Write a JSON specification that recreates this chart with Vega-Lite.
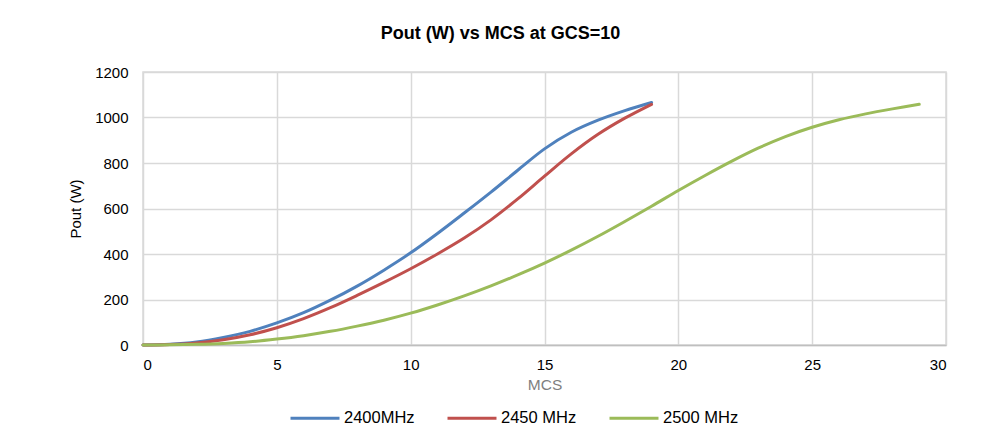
{
  "$schema": "https://vega.github.io/schema/vega-lite/v6.json",
  "width": 803,
  "height": 273,
  "autosize": "none",
  "padding": {"left": 143, "top": 72, "right": 46, "bottom": 99},
  "background": "white",
  "title": {
    "text": "Pout (W) vs MCS at GCS=10",
    "font": "Liberation Sans",
    "fontSize": 18,
    "fontWeight": "bold",
    "color": "#000000",
    "offset": 22,
    "dx": -44
  },
  "data": {
    "values": [
      {"MCS": 0, "Pout": 0, "Band": "2400MHz"},
      {"MCS": 1, "Pout": 3, "Band": "2400MHz"},
      {"MCS": 2, "Pout": 13, "Band": "2400MHz"},
      {"MCS": 3, "Pout": 33, "Band": "2400MHz"},
      {"MCS": 4, "Pout": 60, "Band": "2400MHz"},
      {"MCS": 5, "Pout": 97, "Band": "2400MHz"},
      {"MCS": 6, "Pout": 142, "Band": "2400MHz"},
      {"MCS": 7, "Pout": 197, "Band": "2400MHz"},
      {"MCS": 8, "Pout": 259, "Band": "2400MHz"},
      {"MCS": 9, "Pout": 329, "Band": "2400MHz"},
      {"MCS": 10, "Pout": 405, "Band": "2400MHz"},
      {"MCS": 11, "Pout": 490, "Band": "2400MHz"},
      {"MCS": 12, "Pout": 580, "Band": "2400MHz"},
      {"MCS": 13, "Pout": 672, "Band": "2400MHz"},
      {"MCS": 14, "Pout": 768, "Band": "2400MHz"},
      {"MCS": 15, "Pout": 862, "Band": "2400MHz"},
      {"MCS": 16, "Pout": 935, "Band": "2400MHz"},
      {"MCS": 17, "Pout": 988, "Band": "2400MHz"},
      {"MCS": 18, "Pout": 1030, "Band": "2400MHz"},
      {"MCS": 19, "Pout": 1066, "Band": "2400MHz"},
      {"MCS": 0, "Pout": 0, "Band": "2450 MHz"},
      {"MCS": 1, "Pout": 2, "Band": "2450 MHz"},
      {"MCS": 2, "Pout": 9, "Band": "2450 MHz"},
      {"MCS": 3, "Pout": 23, "Band": "2450 MHz"},
      {"MCS": 4, "Pout": 45, "Band": "2450 MHz"},
      {"MCS": 5, "Pout": 76, "Band": "2450 MHz"},
      {"MCS": 6, "Pout": 116, "Band": "2450 MHz"},
      {"MCS": 7, "Pout": 164, "Band": "2450 MHz"},
      {"MCS": 8, "Pout": 218, "Band": "2450 MHz"},
      {"MCS": 9, "Pout": 275, "Band": "2450 MHz"},
      {"MCS": 10, "Pout": 335, "Band": "2450 MHz"},
      {"MCS": 11, "Pout": 400, "Band": "2450 MHz"},
      {"MCS": 12, "Pout": 470, "Band": "2450 MHz"},
      {"MCS": 13, "Pout": 550, "Band": "2450 MHz"},
      {"MCS": 14, "Pout": 642, "Band": "2450 MHz"},
      {"MCS": 15, "Pout": 742, "Band": "2450 MHz"},
      {"MCS": 16, "Pout": 840, "Band": "2450 MHz"},
      {"MCS": 17, "Pout": 926, "Band": "2450 MHz"},
      {"MCS": 18, "Pout": 997, "Band": "2450 MHz"},
      {"MCS": 19, "Pout": 1058, "Band": "2450 MHz"},
      {"MCS": 0, "Pout": 0, "Band": "2500 MHz"},
      {"MCS": 1, "Pout": 1, "Band": "2500 MHz"},
      {"MCS": 2, "Pout": 3, "Band": "2500 MHz"},
      {"MCS": 3, "Pout": 7, "Band": "2500 MHz"},
      {"MCS": 4, "Pout": 14, "Band": "2500 MHz"},
      {"MCS": 5, "Pout": 26, "Band": "2500 MHz"},
      {"MCS": 6, "Pout": 41, "Band": "2500 MHz"},
      {"MCS": 7, "Pout": 60, "Band": "2500 MHz"},
      {"MCS": 8, "Pout": 83, "Band": "2500 MHz"},
      {"MCS": 9, "Pout": 109, "Band": "2500 MHz"},
      {"MCS": 10, "Pout": 140, "Band": "2500 MHz"},
      {"MCS": 11, "Pout": 176, "Band": "2500 MHz"},
      {"MCS": 12, "Pout": 216, "Band": "2500 MHz"},
      {"MCS": 13, "Pout": 260, "Band": "2500 MHz"},
      {"MCS": 14, "Pout": 308, "Band": "2500 MHz"},
      {"MCS": 15, "Pout": 360, "Band": "2500 MHz"},
      {"MCS": 16, "Pout": 417, "Band": "2500 MHz"},
      {"MCS": 17, "Pout": 478, "Band": "2500 MHz"},
      {"MCS": 18, "Pout": 543, "Band": "2500 MHz"},
      {"MCS": 19, "Pout": 610, "Band": "2500 MHz"},
      {"MCS": 20, "Pout": 679, "Band": "2500 MHz"},
      {"MCS": 21, "Pout": 745, "Band": "2500 MHz"},
      {"MCS": 22, "Pout": 808, "Band": "2500 MHz"},
      {"MCS": 23, "Pout": 866, "Band": "2500 MHz"},
      {"MCS": 24, "Pout": 916, "Band": "2500 MHz"},
      {"MCS": 25, "Pout": 957, "Band": "2500 MHz"},
      {"MCS": 26, "Pout": 990, "Band": "2500 MHz"},
      {"MCS": 27, "Pout": 1016, "Band": "2500 MHz"},
      {"MCS": 28, "Pout": 1038, "Band": "2500 MHz"},
      {"MCS": 29, "Pout": 1058, "Band": "2500 MHz"}
    ]
  },
  "mark": {"type": "line", "interpolate": "catmull-rom", "strokeWidth": 3, "strokeCap": "round"},
  "encoding": {
    "x": {
      "field": "MCS",
      "type": "quantitative",
      "scale": {"domain": [0, 30], "nice": false},
      "axis": {
        "values": [0, 5, 10, 15, 20, 25, 30],
        "title": "MCS",
        "titleFont": "Liberation Sans",
        "titleFontSize": 15.5,
        "titleFontWeight": "normal",
        "titleColor": "#7f7f7f",
        "titlePadding": 5,
        "labelFont": "Liberation Sans",
        "labelFontSize": 15,
        "labelColor": "#000000",
        "labelPadding": 12,
        "ticks": false,
        "domainColor": "#bfbfbf",
        "domainWidth": 1.5,
        "gridColor": "#d9d9d9",
        "gridWidth": 1.5
      }
    },
    "y": {
      "field": "Pout",
      "type": "quantitative",
      "scale": {"domain": [0, 1200], "nice": false},
      "axis": {
        "values": [0, 200, 400, 600, 800, 1000, 1200],
        "format": "d",
        "title": "Pout (W)",
        "titleFont": "Liberation Sans",
        "titleFontSize": 15,
        "titleFontWeight": "normal",
        "titleColor": "#000000",
        "titlePadding": 11,
        "labelFont": "Liberation Sans",
        "labelFontSize": 15,
        "labelColor": "#000000",
        "labelPadding": 15,
        "ticks": false,
        "domain": false,
        "gridColor": "#d9d9d9",
        "gridWidth": 1.5
      }
    },
    "color": {
      "field": "Band",
      "type": "nominal",
      "scale": {
        "domain": ["2400MHz", "2450 MHz", "2500 MHz"],
        "range": ["#4f81bd", "#c0504d", "#9bbb59"]
      },
      "legend": {
        "title": null,
        "orient": "none",
        "legendX": 146,
        "legendY": 320,
        "direction": "horizontal",
        "symbolType": "stroke",
        "symbolSize": 2400,
        "symbolStrokeWidth": 3,
        "labelFont": "Liberation Sans",
        "labelFontSize": 16.5,
        "labelColor": "#000000",
        "labelOffset": 3,
        "columnPadding": 26
      }
    }
  },
  "config": {
    "view": {"stroke": "#d9d9d9", "strokeWidth": 1.5}
  }
}
